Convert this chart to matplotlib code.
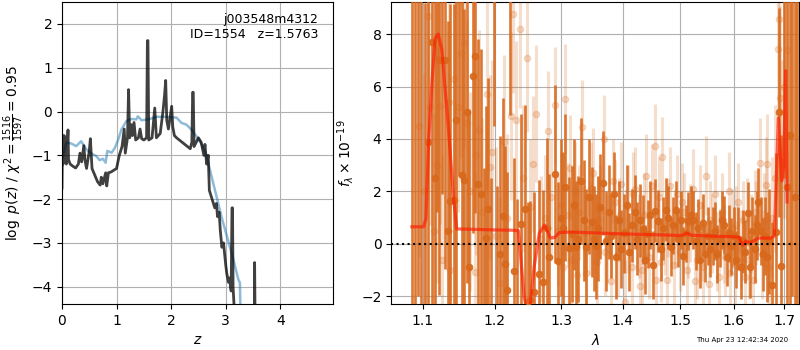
import numpy as np
import matplotlib
matplotlib.use("Agg")
import matplotlib.pyplot as plt
from matplotlib.ticker import FixedLocator, FixedFormatter, NullLocator

# --- p(z) panel ---
z_prior = [0.02, 0.08, 0.17, 0.26, 0.35, 0.45, 0.54, 0.63, 0.69, 0.75, 0.80, 0.83, 0.91, 0.97,
           1.03, 1.09, 1.18, 1.27, 1.36, 1.39, 1.46, 1.61, 1.73, 1.91, 2.10, 2.19, 2.28, 2.37,
           2.46, 2.56, 2.65, 2.74, 2.83, 2.92, 3.02, 3.14, 3.23, 3.26, 3.27]
lnp_prior = [-1.02, -0.71, -0.73, -0.79, -0.68, -0.87, -0.96, -1.02, -1.11, -1.08, -1.17, -0.90,
             -0.94, -0.83, -0.64, -0.41, -0.22, -0.17, -0.18, -0.11, -0.20, -0.17, -0.12, -0.12,
             -0.14, -0.26, -0.30, -0.41, -0.56, -0.75, -1.02, -1.48, -1.93, -2.39, -2.84, -3.38,
             -3.83, -3.91, -4.50]

z_fit = [0.00, 0.01, 0.02, 0.04, 0.06, 0.08, 0.11, 0.12, 0.15, 0.20, 0.25, 0.30, 0.33, 0.36,
         0.40, 0.42, 0.45, 0.50, 0.52, 0.55, 0.60, 0.65, 0.70, 0.72, 0.75, 0.80, 0.82, 0.85,
         0.90, 1.00, 1.05, 1.10, 1.14, 1.16, 1.20, 1.22, 1.24, 1.27, 1.29, 1.32, 1.35, 1.40,
         1.43, 1.46, 1.50, 1.55, 1.565, 1.575, 1.59, 1.65, 1.70, 1.73, 1.80, 1.85, 1.88, 1.90,
         1.92, 1.95, 2.01, 2.03, 2.06, 2.10, 2.20, 2.30, 2.35, 2.38, 2.395, 2.405, 2.42, 2.50,
         2.55, 2.60, 2.62, 2.65, 2.68, 2.70, 2.75, 2.80, 2.83, 2.85, 2.88, 2.90, 2.93, 2.96,
         3.00, 3.02, 3.05, 3.07, 3.10, 3.115, 3.125, 3.135, 3.16]
lnp_fit = [-1.75, -0.55, -1.20, -0.55, -1.10, -1.20, -0.42, -1.10, -1.20, -1.25, -1.29, -1.20,
           -0.95, -1.15, -0.78, -1.10, -1.30, -0.90, -0.62, -1.30, -1.45, -1.60, -1.68, -1.50,
           -1.65, -1.40, -1.70, -1.40, -1.38, -1.30, -1.00, -0.80, -0.40, -0.95, -0.60, 0.50,
           -0.60, -0.30, -0.55, -0.25, -0.65, -0.60, -0.40, -0.62, -0.65, -0.60, 1.62, 1.62,
           -0.65, -0.60, 0.08, -0.60, -0.50, 0.00, 0.38, 0.71, -0.20, -0.40, 0.12, -0.35,
           -0.55, -0.60, -0.70, -0.80, -0.85, -0.70, 0.44, 0.44, -0.80, -0.60, -0.70, -1.00,
           -0.75, -1.20, -1.00, -1.80, -2.00, -2.20, -2.10, -2.40, -2.30, -2.70, -3.10, -3.00,
           -3.50, -3.70, -3.90, -3.80, -4.10, -2.20, -2.20, -4.00, -4.60]
z_spike = [3.525, 3.53, 3.54]
lnp_spike = [-5.0, -3.45, -5.0]

# --- spectrum panel: stronger orient ---
w_dark = [1.0865, 1.0905, 1.0945, 1.0985, 1.1030, 1.1072, 1.1125, 1.1160, 1.1195, 1.1227,
          1.1265, 1.1304, 1.1336, 1.1373, 1.1418, 1.1455, 1.1495, 1.1534, 1.1570, 1.1598,
          1.1636, 1.1687, 1.1720, 1.1759, 1.1800, 1.1840, 1.1877, 1.1909, 1.1950, 1.1990,
          1.2030, 1.2068, 1.2112, 1.2150, 1.2176, 1.2220, 1.2273, 1.2330, 1.2387, 1.2437,
          1.2490, 1.2513, 1.2587, 1.2648, 1.2724, 1.2776, 1.2816, 1.2894, 1.2941, 1.3000,
          1.3030, 1.3060, 1.3113, 1.3167, 1.3200, 1.3230, 1.3270, 1.3315, 1.3355, 1.3395,
          1.3440, 1.3487, 1.3520, 1.3553, 1.3590, 1.3622, 1.3677, 1.3720, 1.3760, 1.3805,
          1.3850, 1.3890, 1.3930, 1.3975, 1.4020, 1.4065, 1.4110, 1.4155, 1.4200, 1.4245,
          1.4290, 1.4335, 1.4380, 1.4425, 1.4470, 1.4515, 1.4560, 1.4605, 1.4650, 1.4695,
          1.4740, 1.4785, 1.4830, 1.4875, 1.4920, 1.4965, 1.5010, 1.5055, 1.5100, 1.5145,
          1.5190, 1.5235, 1.5280, 1.5325, 1.5370, 1.5415, 1.5460, 1.5505, 1.5550, 1.5595,
          1.5640, 1.5685, 1.5730, 1.5775, 1.5820, 1.5865, 1.5910, 1.5955, 1.6000, 1.6045,
          1.6090, 1.6135, 1.6180, 1.6225, 1.6270, 1.6315, 1.6360, 1.6405, 1.6450, 1.6480,
          1.6525, 1.6570, 1.6615, 1.6660, 1.6700, 1.6760, 1.6830, 1.6900, 1.6940, 1.6990,
          1.7050, 1.7120, 1.7170, 1.7220, 1.7270]
f_dark = [10.5, -3.5, 11.0, 9.8, -2.8, 3.90, 7.68, 2.53, 10.2, 7.03,
          9.9, 7.03, 0.49, 1.63, 1.66, 4.72, 9.6, 2.62, 2.45, 5.01,
          -0.90, 6.40, 7.16, 2.30, 1.92, -2.6, 0.24, 1.31, -2.5, 9.5,
          -2.6, -0.37, 1.05, -0.75, -1.77, 9.4, -1.03, -2.5, 0.75, 1.31,
          -2.4, -2.15, -1.83, -1.16, -1.45, 0.62, -0.52, 2.66, -0.64, 1.00,
          0.60, 2.15, -0.14, 0.38, 1.50, -0.12, 0.20, 2.40, 0.90, -0.12,
          1.80, 0.84, 0.20, -0.09, 0.60, 1.41, 2.32, 0.10, 1.22, 0.30,
          1.90, -0.50, 0.90, -0.20, 0.40, 1.50, -0.31, 0.70, 1.22, 0.20,
          0.90, 0.55, -0.60, 0.39, 1.10, -0.80, 1.26, 0.87, -0.20, 0.60,
          1.30, 1.00, -0.12, 0.70, 1.30, 0.20, 0.90, -0.47, 0.40, 0.87,
          1.10, 0.90, 0.10, 0.60, -0.60, 0.80, -0.37, 0.30, -0.18, 0.30,
          0.50, -0.40, 0.20, 0.90, 0.71, -0.50, 0.40, -0.10, 0.30, -0.60,
          0.20, -0.90, 0.10, -0.30, 1.16, -0.87, 0.50, -0.20, 0.70, 1.59,
          0.50, -0.40, 0.30, -0.50, 0.10, -1.58, 0.46, 5.01, -0.85, 9.5,
          2.15, 4.15, 10.0, 1.77, -3.0]
e_dark = [14, 14, 13, 13, 12, 10, 10, 9, 9, 9,
          8, 8, 8, 7.5, 7.5, 7, 7, 7, 6.5, 6.5,
          6, 6, 6, 5.5, 5.5, 5.5, 5, 5, 5, 5,
          4.8, 4.5, 4.5, 4.5, 4.5, 4.5, 4.3, 4.2, 4.2, 4.0,
          4.0, 3.8, 3.8, 3.6, 3.5, 3.4, 3.2, 3.4, 3.0, 3.0,
          2.9, 2.8, 2.7, 2.6, 2.5, 2.5, 2.4, 2.4, 2.3, 2.2,
          2.2, 2.1, 2.0, 2.0, 2.0, 2.0, 2.0, 1.9, 1.8, 1.6,
          1.6, 1.6, 1.5, 1.5, 1.5, 1.5, 1.5, 1.4, 1.4, 1.4,
          1.4, 1.3, 1.3, 1.3, 1.3, 1.3, 1.2, 1.2, 1.2, 1.2,
          1.2, 1.2, 1.1, 1.1, 1.1, 1.1, 1.1, 1.1, 1.1, 1.1,
          1.1, 1.1, 1.1, 1.1, 1.1, 1.1, 1.1, 1.1, 1.1, 1.1,
          1.1, 1.1, 1.1, 1.1, 1.1, 1.1, 1.1, 1.1, 1.1, 1.1,
          1.2, 1.2, 1.2, 1.2, 1.2, 1.2, 1.3, 1.3, 1.3, 1.3,
          1.3, 1.4, 1.5, 1.7, 2.0, 2.4, 3.0, 4.0, 5.0, 7.0,
          9.0, 10.0, 12.0, 13.0, 14.0]

# --- spectrum panel: fainter orient ---
w_light = [1.0960, 1.1020, 1.1070, 1.1100, 1.1150, 1.1200, 1.1240, 1.1260, 1.1350, 1.1373,
           1.1420, 1.1480, 1.1520, 1.1570, 1.1600, 1.1650, 1.1720, 1.1730, 1.1770, 1.1820,
           1.1890, 1.1930, 1.1960, 1.2020, 1.2080, 1.2130, 1.2180, 1.2230, 1.2270, 1.2310,
           1.2375, 1.2420, 1.2470, 1.2520, 1.2570, 1.2617, 1.2680, 1.2740, 1.2790, 1.2840,
           1.2900, 1.2950, 1.3000, 1.3030, 1.3060, 1.3110, 1.3135, 1.3160, 1.3220, 1.3250,
           1.3280, 1.3330, 1.3360, 1.3390, 1.3450, 1.3480, 1.3510, 1.3570, 1.3595, 1.3620,
           1.3680, 1.3710, 1.3740, 1.3800, 1.3830, 1.3860, 1.3910, 1.3940, 1.3970, 1.4030,
           1.4060, 1.4090, 1.4150, 1.4180, 1.4210, 1.4270, 1.4300, 1.4330, 1.4360, 1.4390,
           1.4450, 1.4500, 1.4550, 1.4570, 1.4630, 1.4655, 1.4680, 1.4720, 1.4760, 1.4790,
           1.4820, 1.4880, 1.4910, 1.4940, 1.5000, 1.5030, 1.5060, 1.5120, 1.5150, 1.5180,
           1.5240, 1.5270, 1.5300, 1.5360, 1.5390, 1.5420, 1.5480, 1.5520, 1.5550, 1.5580,
           1.5640, 1.5680, 1.5720, 1.5780, 1.5810, 1.5840, 1.5900, 1.5930, 1.5960, 1.6020,
           1.6050, 1.6080, 1.6140, 1.6170, 1.6210, 1.6260, 1.6295, 1.6330, 1.6380, 1.6410,
           1.6440, 1.6510, 1.6560, 1.6600, 1.6630, 1.6660, 1.6700, 1.6750, 1.6820, 1.6870,
           1.6900, 1.6920, 1.6960, 1.7000, 1.7050]
f_light = [4.5, 2.0, 8.7, 5.23, 0.5, 3.0, 5.25, -0.63, 5.42, -1.01,
           6.3, 5.23, 7.29, 7.67, 4.59, 2.0, -1.07, 3.38, 4.34, 1.2,
           5.71, 2.94, 3.51, 0.3, -1.5, 3.89, 1.0, 4.87, 8.75, 4.72,
           8.18, 2.5, 7.07, 1.4, 3.04, 4.97, 0.2, 1.0, 4.30, 1.8,
           5.29, 0.5, 1.5, -0.9, 5.51, 1.1, 2.9, -0.6, 2.0, -1.2,
           1.2, 4.44, 0.4, -1.1, 0.6, 2.1, 2.7, -0.7, 0.9, 1.3,
           3.98, -0.3, 0.2, -1.4, 2.4, 1.6, -0.4, 0.9, 2.3, -2.2,
           0.5, 1.4, -0.9, 1.9, 2.1, 0.3, -1.6, -1.0, 1.1, 2.6,
           -0.5, 2.2, 3.73, -1.39, 1.8, -0.7, 3.32, 0.3, -1.39, 1.0,
           2.2, -0.8, 0.6, 1.9, -0.3, 1.6, 1.2, -1.0, 0.2, 0.8,
           2.1, -1.4, -0.6, 1.5, 0.1, -0.9, 2.6, -1.54, 0.9, 0.4,
           1.9, -0.3, -1.26, 1.2, 0.0, -0.5, 2.0, -1.1, 0.6, -0.8,
           0.7, 1.6, -0.2, 0.9, -1.26, 1.0, -0.6, 0.4, -1.39, 1.2,
           0.8, 3.1, -0.4, 0.9, 2.26, 3.04, -0.88, 1.0, 2.5, 7.45,
           8.56, 5.58, 3.0, 6.0, 7.41]
e_light = [5, 4.5, 5, 4.5, 4.5, 4.5, 4.5, 4, 4, 4,
           4, 4, 4, 4, 4, 3.8, 3.8, 3.8, 3.8, 3.6,
           3.6, 3.5, 3.5, 3.4, 3.3, 3.3, 3.2, 3.2, 3.0, 3.0,
           3.0, 2.8, 2.8, 2.6, 2.6, 2.6, 2.4, 2.4, 2.3, 2.2,
           2.2, 2.1, 2.0, 2.0, 2.1, 2.0, 2.0, 2.0, 1.9, 1.9,
           1.8, 1.8, 1.8, 1.8, 1.8, 1.8, 1.7, 1.7, 1.7, 1.7,
           1.7, 1.7, 1.7, 1.6, 1.6, 1.6, 1.6, 1.6, 1.6, 1.6,
           1.6, 1.6, 1.6, 1.6, 1.6, 1.6, 1.6, 1.6, 1.6, 1.6,
           1.6, 1.6, 1.6, 1.6, 1.5, 1.5, 1.5, 1.5, 1.5, 1.5,
           1.5, 1.5, 1.5, 1.5, 1.5, 1.5, 1.5, 1.5, 1.5, 1.5,
           1.5, 1.5, 1.5, 1.5, 1.5, 1.5, 1.5, 1.5, 1.5, 1.5,
           1.5, 1.5, 1.5, 1.5, 1.5, 1.5, 1.5, 1.5, 1.5, 1.5,
           1.5, 1.5, 1.5, 1.5, 1.5, 1.5, 1.5, 1.5, 1.6, 1.6,
           1.6, 1.7, 1.7, 1.8, 1.8, 1.9, 2.0, 2.3, 2.8, 3.0,
           3.5, 3.5, 4.0, 5.0, 5.0]

# --- best-fit model ---
w_model = [1.086, 1.1013, 1.1045, 1.108, 1.1125, 1.1169, 1.121, 1.1259, 1.1347, 1.1418,
           1.1461, 1.175, 1.200, 1.225, 1.2345, 1.238, 1.243, 1.248, 1.252, 1.258,
           1.266, 1.274, 1.279, 1.283, 1.290, 1.297, 1.314, 1.350, 1.400, 1.450,
           1.500, 1.505, 1.512, 1.520, 1.550, 1.600, 1.610, 1.617, 1.623, 1.630,
           1.638, 1.648, 1.673, 1.680, 1.688, 1.695, 1.699, 1.703, 1.706]
f_model = [0.65, 0.65, 0.96, 3.83, 6.12, 7.85, 8.0, 7.39, 4.46, 1.78,
           0.57, 0.55, 0.53, 0.52, 0.50, -0.5, -2.0, -2.6, -2.4, -0.9,
           0.40, 0.72, 0.45, 0.22, 0.25, 0.43, 0.45, 0.42, 0.38, 0.35,
           0.32, 0.33, 0.41, 0.33, 0.30, 0.27, 0.25, -0.05, 0.10, 0.05,
           0.10, 0.22, 0.22, 0.30, 4.8, 2.4, 3.0, 6.6, 1.6]

wave_ticks = [1.1, 1.2, 1.3, 1.4, 1.5, 1.6, 1.7]
zfit_label = "j003548m4312\nID=1554   z=1.5763"
stamp = "Thu Apr 23 12:42:34 2020"

orange = "#d8691c"

fig = plt.figure(figsize=(8, 3.5), dpi=100)

# left: p(z)
ax1 = fig.add_axes([0.0775, 0.131, 0.339, 0.863])
ax1.plot(z_prior, lnp_prior, color="#1f77b4", alpha=0.5, lw=1.8)
ax1.plot(z_fit, lnp_fit, color="k", alpha=0.75, lw=2)
ax1.plot(z_spike, lnp_spike, color="k", alpha=0.75, lw=2)
ax1.set_xlim(0, 4.97)
ax1.set_ylim(-4.4, 2.5)
ax1.set_xticks([0, 1, 2, 3, 4])
ax1.set_yticks([-4, -3, -2, -1, 0, 1, 2])
ax1.grid(True)
ax1.set_xlabel(r"$z$")
ax1.set_ylabel(r"$\log\ p(z)$ / $\chi^2=\frac{1516}{1597}=0.95$")
ax1.text(0.945, 0.965, zfit_label, transform=ax1.transAxes, ha="right", va="top",
         fontsize=9, multialignment="right")

# right: spectrum
ax2 = fig.add_axes([0.489, 0.131, 0.51, 0.863])
ax2.errorbar(w_light, f_light, yerr=e_light, fmt="o", color=orange, alpha=0.22,
             markersize=4.5, elinewidth=2.2, capsize=0, zorder=2)
ax2.errorbar(w_dark, f_dark, yerr=e_dark, fmt="o", color=orange, alpha=0.9,
             markersize=4.5, elinewidth=1.9, capsize=0, zorder=3)
ax2.plot(w_model, f_model, color="#ff1a00", alpha=0.65, lw=2.3, zorder=4)
ax2.axhline(0, color="k", ls=":", lw=1.5, zorder=5)
ax2.set_xscale("log")
ax2.xaxis.set_major_locator(FixedLocator(wave_ticks))
ax2.xaxis.set_major_formatter(FixedFormatter([str(t) for t in wave_ticks]))
ax2.xaxis.set_minor_locator(NullLocator())
ax2.set_xlim(1.0593, 1.731)
ax2.set_ylim(-2.3, 9.22)
ax2.set_yticks([-2, 0, 2, 4, 6, 8])
ax2.grid(True)
ax2.set_xlabel(r"$\lambda$")
ax2.set_ylabel(r"$f_\lambda\times10^{-19}$")

fig.text(0.985, 0.029, stamp, fontsize=5, ha="right", va="center")

fig.savefig("out.png", dpi=100)
